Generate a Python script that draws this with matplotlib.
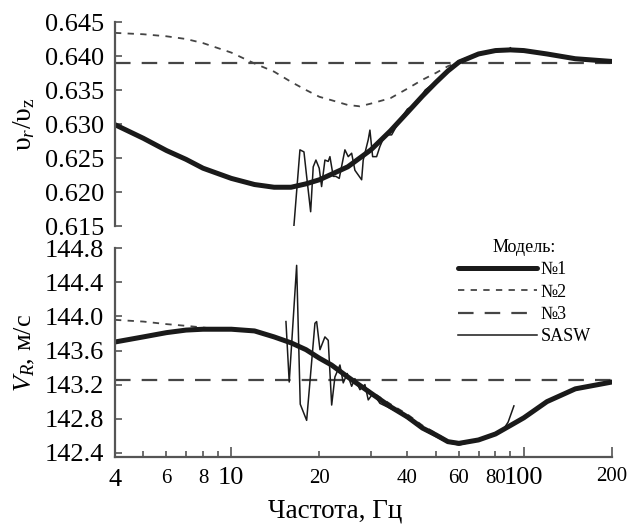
import matplotlib
matplotlib.use("Agg")
import matplotlib.pyplot as plt
from matplotlib.ticker import FormatStrFormatter

plt.rcParams['font.family'] = ['Liberation Serif', 'DejaVu Serif']
plt.rcParams['mathtext.fontset'] = 'custom'
plt.rcParams['mathtext.rm'] = 'Liberation Serif'
plt.rcParams['mathtext.it'] = 'Liberation Serif:italic'

# ---- top panel: ratio vr/vz ----
f1_top = [4, 5, 6, 7, 8, 10, 12, 14, 16, 18, 20, 25, 30, 35, 40, 45, 50, 55, 60,
          70, 80, 90, 100, 120, 150, 200]
m1_top = [0.6299, 0.6279, 0.6261, 0.6248, 0.6235, 0.6220, 0.6211, 0.6207, 0.6207,
          0.6212, 0.6218, 0.6237, 0.6262, 0.6290, 0.6317, 0.6341, 0.6361, 0.6378,
          0.6391, 0.6403, 0.6408, 0.6409, 0.6408, 0.6403, 0.6396, 0.6392]
f2_top = [4, 5, 6, 7, 8, 10, 12, 14, 16, 18, 20, 22, 25, 27.5, 30, 35, 40, 45, 50,
          55, 60, 70, 80, 90, 100, 120, 150, 200]
m2_top = [0.6434, 0.6432, 0.6429, 0.6425, 0.6419, 0.6405, 0.6389, 0.6377, 0.6362,
          0.6350, 0.6340, 0.6335, 0.6328, 0.6326, 0.6330, 0.6338, 0.6352, 0.6365,
          0.6375, 0.6385, 0.6391, 0.6403, 0.6408, 0.6409, 0.6408, 0.6403, 0.6396,
          0.6392]
m3_top = 0.6390
fs_top = [16.37, 17.16, 17.71, 18.09, 18.67, 19.05, 19.46, 19.97, 20.35, 20.89,
          21.44, 21.73, 22.30, 22.78, 23.38, 24.45, 25.10, 25.78, 26.45, 27.89,
          28.24, 29.38, 29.77, 30.41, 31.38, 32.21, 33.5, 35.32, 37.7, 40, 43, 46,
          50, 55, 60, 70, 80, 88, 90]
sasw_top = [0.6151, 0.6262, 0.6259, 0.6223, 0.6171, 0.6237, 0.6247, 0.6235, 0.6208,
            0.6247, 0.6245, 0.6252, 0.6223, 0.6223, 0.6220, 0.6262, 0.6252, 0.6257,
            0.6232, 0.6218, 0.6247, 0.6277, 0.6291, 0.6252, 0.6252, 0.6267, 0.6284,
            0.6284, 0.6306, 0.6322, 0.6330, 0.6350, 0.6362, 0.6380, 0.6393, 0.6404,
            0.6407, 0.6409, 0.6412]

# ---- bottom panel: VR, m/s ----
f1_bot = [4, 5, 6, 7, 8, 9, 10, 12, 14, 16, 18, 20, 22, 25, 30, 35, 40, 45, 50, 55,
          60, 70, 80, 90, 100, 120, 150, 200]
m1_bot = [143.70, 143.76, 143.81, 143.84, 143.85, 143.85, 143.85, 143.83, 143.76,
          143.69, 143.61, 143.51, 143.43, 143.29, 143.10, 142.94, 142.82, 142.69,
          142.61, 142.53, 142.51, 142.55, 142.62, 142.72, 142.81, 143.00, 143.15,
          143.23]
f2_bot = [4, 5, 6, 7, 8, 9, 10, 12, 14, 16, 18, 20, 22, 25, 30, 35, 40, 45, 50, 55,
          60, 70, 80, 90, 100, 120, 150, 200]
m2_bot = [143.96, 143.94, 143.91, 143.89, 143.87, 143.85, 143.85, 143.83, 143.76,
          143.69, 143.61, 143.51, 143.43, 143.29, 143.12, 142.97, 142.85, 142.72,
          142.63, 142.54, 142.51, 142.55, 142.62, 142.72, 142.81, 143.00, 143.15,
          143.23]
m3_bot = 143.25
fs_bot = [15.37, 15.77, 16.72, 17.20, 18.09, 19.31, 19.57, 20.09, 20.89, 21.44,
          22.03, 22.60, 23.51, 24.13, 24.90, 25.78, 26.45, 27.52, 28.62, 29.38,
          30.55, 32.21, 35, 38, 40, 43, 46, 50, 55, 60, 65, 70, 80, 85, 88.4, 92.5]
sasw_bot = [143.94, 143.23, 144.60, 142.97, 142.78, 143.92, 143.94, 143.61, 143.76,
            143.72, 142.96, 143.29, 143.43, 143.22, 143.33, 143.18, 143.27, 143.14,
            143.20, 143.02, 143.10, 142.98, 142.92, 142.86, 142.80, 142.73, 142.66,
            142.59, 142.52, 142.49, 142.52, 142.55, 142.63, 142.67, 142.76, 142.95]

xticks_major = [10, 100, 200]
xticks_minor = [4, 5, 6, 7, 8, 9, 20, 30, 40, 50, 60, 70, 80, 90]
minor_labels = ['4', '', '6', '', '8', '', '20', '', '40', '', '60', '', '80', '']

black = '#1a1a1a'
grey = '#454545'
spine_c = '#555555'

fig = plt.figure(figsize=(6.3, 5.24), dpi=100)
ax1 = fig.add_axes([0.1825, 0.5687, 0.7887, 0.3893])
ax2 = fig.add_axes([0.1825, 0.1279, 0.7887, 0.3982])

for ax in (ax1, ax2):
    ax.set_xscale('log')
    ax.set_xlim(4, 200)
    for s in ('top', 'right'):
        ax.spines[s].set_visible(False)
    for s in ('left', 'bottom'):
        ax.spines[s].set_color(spine_c)
        ax.spines[s].set_linewidth(1.6)
    ax.tick_params(axis='y', direction='in', length=5, width=1.2, color=spine_c,
                   labelsize=19, pad=8)

# top
ax1.plot([4, 200], [m3_top, m3_top], color=grey, lw=1.6, dashes=(7, 5))
ax1.plot(f2_top, m2_top, color=grey, lw=1.3, dashes=(3.5, 3.5))
ax1.plot(f1_top, m1_top, color=black, lw=3.6, solid_capstyle='round')
ax1.plot(fs_top, sasw_top, color=black, lw=1.1)
ax1.set_ylim(0.615, 0.645)
ax1.set_yticks([0.615, 0.620, 0.625, 0.630, 0.635, 0.640, 0.645])
ax1.yaxis.set_major_formatter(FormatStrFormatter('%.3f'))
ax1.spines['bottom'].set_visible(False)
ax1.set_xticks([])
ax1.set_xticks([], minor=True)
ax1.set_ylabel('υ$_r$/υ$_{\\mathrm{z}}$', fontsize=20)
ax1.yaxis.set_label_coords(-0.157, 0.5)

# bottom
ax2.plot([4, 200], [m3_bot, m3_bot], color=grey, lw=1.6, dashes=(7, 5), label='№3')
ax2.plot(f2_bot, m2_bot, color=grey, lw=1.3, dashes=(3.5, 3.5), label='№2')
ax2.plot(f1_bot, m1_bot, color=black, lw=3.6, solid_capstyle='round', label='№1')
ax2.plot(fs_bot, sasw_bot, color=black, lw=1.1, label='SASW')
ax2.set_ylim(142.35, 144.8)
ax2.set_yticks([142.4, 142.8, 143.2, 143.6, 144.0, 144.4, 144.8])
ax2.yaxis.set_major_formatter(FormatStrFormatter('%.1f'))
ax2.set_xticks(xticks_major, ['10', '100', '200'])
ax2.set_xticks(xticks_minor, minor_labels, minor=True)
ax2.tick_params(axis='x', which='major', direction='in', length=7, width=1.2,
                color=spine_c, labelsize=19, pad=7)
ax2.tick_params(axis='x', which='minor', direction='in', length=4, width=1.2,
                color=spine_c, labelsize=15, pad=9)
for lab in ax2.get_xticklabels():
    if lab.get_text() == '200':
        lab.set_fontsize(15)
for lab in ax2.get_xticklabels(minor=True):
    if lab.get_text() == '4':
        lab.set_fontsize(19)
ax2.set_ylabel('$V_R$, м/с', fontsize=19)
ax2.yaxis.set_label_coords(-0.157, 0.5)
ax2.set_xlabel('Частота, Гц', fontsize=19.5)
ax2.xaxis.set_label_coords(0.443, -0.2)

h, l = ax2.get_legend_handles_labels()
order = [2, 1, 0, 3]
leg = ax2.legend([h[i] for i in order], [l[i] for i in order], title='Модель:',
                 loc='upper right', bbox_to_anchor=(0.955, 0.565),
                 bbox_transform=fig.transFigure, frameon=False, fontsize=13,
                 title_fontsize=13, handlelength=4.4, handletextpad=0.2,
                 labelspacing=0.3, borderpad=0.1)

fig.savefig('out.png', dpi=100)
